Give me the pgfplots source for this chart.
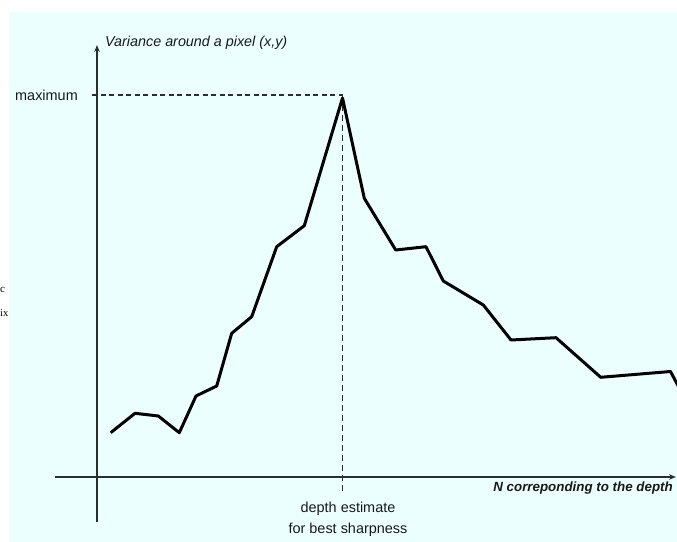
\documentclass[border=0pt]{standalone}
\usepackage{fontspec}
\setmainfont{Liberation Sans}
\newfontfamily\serifx{Liberation Serif}
\usepackage{pgfplots}
\pgfplotsset{compat=1.18}
\usetikzlibrary{arrows.meta}
\definecolor{bgcyan}{RGB}{236,255,255}
\definecolor{axgray}{RGB}{45,45,45}
\definecolor{txt}{RGB}{25,25,25}
\begin{document}
\begin{tikzpicture}
\begin{axis}[
  width=677bp, height=542bp, scale only axis,
  xmin=-97, xmax=580, ymin=-65, ymax=477,
  hide axis, clip=true,
]
\fill[white] (axis cs:-97,-65) rectangle (axis cs:580,477);
\fill[bgcyan] (axis cs:-88,-65) rectangle (axis cs:580,465);
% axes
\draw[axgray, line width=2bp, -{Stealth[length=7bp,width=5.5bp]}] (axis cs:0,-45) -- (axis cs:0,432);
\draw[axgray, line width=2bp, -{Stealth[length=7bp,width=5.5bp]}] (axis cs:-42,0) -- (axis cs:579,0);
% dashed guides
\draw[axgray, line width=1.7bp, dash pattern=on 5bp off 3.5bp] (axis cs:-5,382) -- (axis cs:245.5,382);
\draw[axgray, line width=1.7bp, dash pattern=on 6bp off 4bp] (axis cs:245.5,382) -- (axis cs:245.5,-15);
% data
\addplot[black, line width=3bp, line join=round, mark=none] coordinates {
(13.7,44.3) (38,63.7) (61.3,61) (82.3,44.3) (99,81) (119.7,91)
(134.7,143.7) (154.7,160.3) (179.7,230.3) (207.3,251.3) (245.5,379)
(267.3,278.7) (298.7,227) (329,230.3) (346.3,196) (386.3,172)
(414,137) (459,139.3) (503.7,99.7) (573.5,105.5) (586,82)
};
% texts
\node[anchor=west, txt, font=\fontsize{14.4}{16}\selectfont\itshape, inner sep=0pt] at (axis cs:8,434) {Variance around a pixel (x,y)};
\node[anchor=west, txt, font=\fontsize{14.5}{16}\selectfont, inner sep=0pt] at (axis cs:-82,382) {maximum};
\node[anchor=center, txt, align=center, font=\fontsize{14.5}{21.5}\selectfont, inner sep=0pt] at (axis cs:251,-42.5) {depth estimate\\for best sharpness};
\node[anchor=east, txt, font=\fontsize{13.4}{16}\selectfont\bfseries\itshape, inner sep=0pt] at (axis cs:576,-11) {N correponding to the depth};
\node[anchor=west, black, font=\fontsize{11}{13}\serifx, inner sep=0pt] at (axis cs:-97,187) {c};
\node[anchor=west, black, font=\fontsize{10.5}{13}\serifx, inner sep=0pt] at (axis cs:-97,164) {ix};
\end{axis}
\end{tikzpicture}
\end{document}
